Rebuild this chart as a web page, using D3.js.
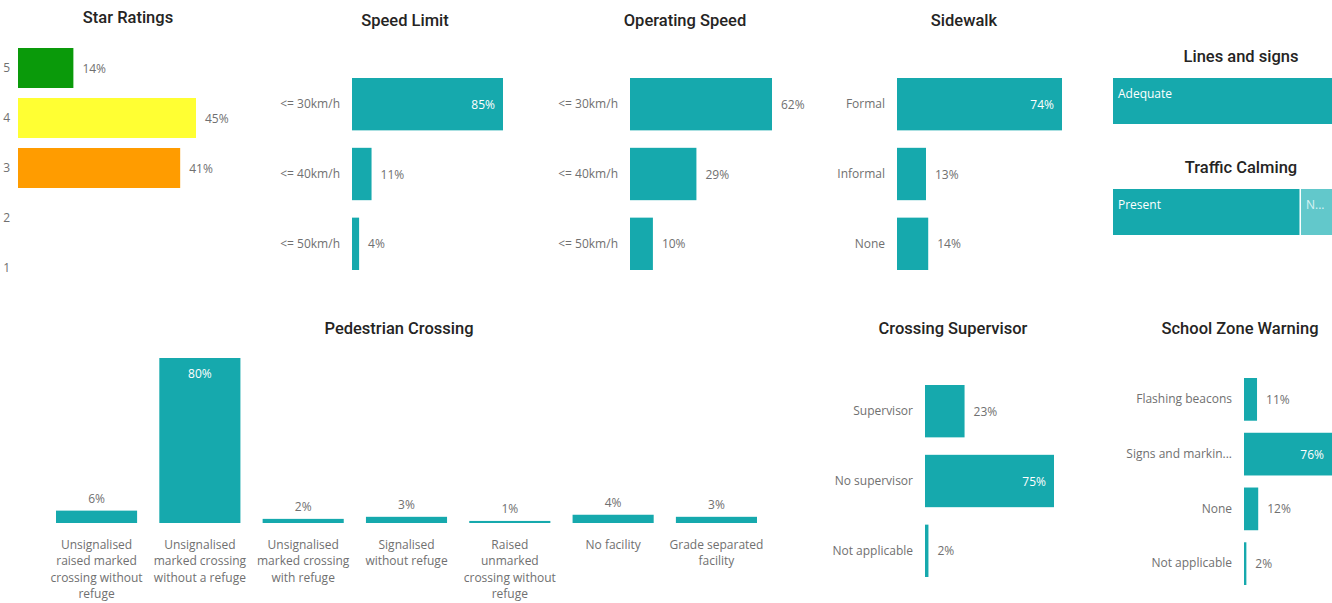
<!DOCTYPE html>
<html>
<head>
<meta charset="utf-8">
<script src="https://cdn.jsdelivr.net/npm/d3@7"></script>
<style>
  html, body { margin: 0; padding: 0; background: #ffffff; }
  svg { display: block; }
</style>
</head>
<body>
<svg id="chart" width="1332" height="603"></svg>
<script>
// ---------------- DATA ----------------
const starCats = ["5", "4", "3", "2", "1"];
const starVals = [14, 45, 41, 0, 0];
const starColors = ["#0a9a0a", "#ffff33", "#ff9c00", "#ff0000", "#8b0000"];

const speedLimitCats = ["<= 30km/h", "<= 40km/h", "<= 50km/h"];
const speedLimitVals = [85, 11, 4];

const opSpeedCats = ["<= 30km/h", "<= 40km/h", "<= 50km/h"];
const opSpeedVals = [62, 29, 10];

const sidewalkCats = ["Formal", "Informal", "None"];
const sidewalkVals = [74, 13, 14];

const linesCats = ["Adequate"];
const linesVals = [100];

const calmingCats = ["Present", "Not present"];
const calmingVals = [72, 28];

const pedCats = [
  "Unsignalised\nraised marked\ncrossing without\nrefuge",
  "Unsignalised\nmarked crossing\nwithout a refuge",
  "Unsignalised\nmarked crossing\nwith refuge",
  "Signalised\nwithout refuge",
  "Raised\nunmarked\ncrossing without\nrefuge",
  "No facility",
  "Grade separated\nfacility"
];
const pedVals = [6, 80, 2, 3, 1, 4, 3];

const supCats = ["Supervisor", "No supervisor", "Not applicable"];
const supVals = [23, 75, 2];

const schoolCats = ["Flashing beacons", "Signs and markings", "None", "Not applicable"];
const schoolVals = [11, 76, 12, 2];

// ---------------- STYLE ----------------
const TEAL = "#16a9ad";
const TEAL_LIGHT = "#62c8cb";
const LABEL = "#707070";
const TITLE = "#252423";
const FONT = "'Open Sans', 'Noto Sans', sans-serif";
const TFONT = "Roboto, 'DejaVu Sans', sans-serif";
const W = 1332;

const svg = d3.select("#chart");

function title(text, x, y) {
  svg.append("text").attr("x", x).attr("y", y)
    .attr("text-anchor", "middle").attr("dominant-baseline", "central")
    .attr("font-family", TFONT).attr("font-weight", 500).attr("font-size", 16.5)
    .attr("fill", TITLE).text(text);
}

function truncate(sel, maxW) {
  sel.each(function () {
    const t = d3.select(this);
    const full = t.text();
    if (this.getComputedTextLength() <= maxW) return;
    let s = full;
    while (s.length > 1) {
      s = s.slice(0, -1);
      t.text(s + "...");
      if (this.getComputedTextLength() <= maxW) break;
    }
  });
}

function hbar(cfg) {
  const g = svg.append("g");
  const x = d3.scaleLinear().domain([0, cfg.max]).range([cfg.left, cfg.right]);
  const y = d3.scaleBand().domain(cfg.cats).range([cfg.top, cfg.bottom]).paddingInner(cfg.pad);
  const data = cfg.cats.map((c, i) => ({ c, v: cfg.vals[i], i }));

  g.selectAll("rect").data(data.filter(d => d.v > 0)).join("rect")
    .attr("x", x(0)).attr("y", d => y(d.c))
    .attr("width", d => x(d.v) - x(0)).attr("height", y.bandwidth())
    .attr("fill", d => cfg.colors ? cfg.colors[d.i] : TEAL);

  const ax = g.append("g").attr("transform", `translate(${x(0) - (cfg.axGap || 4)},0)`)
    .call(d3.axisLeft(y).tickSize(0).tickPadding(cfg.tickPad || 8));
  ax.select(".domain").remove();
  ax.attr("font-family", FONT).attr("font-size", 12);
  ax.selectAll("text").attr("fill", LABEL);
  if (cfg.labelMax) truncate(ax.selectAll("text"), cfg.labelMax);

  g.selectAll("text.val").data(data.filter(d => d.v > 0)).join("text")
    .attr("class", "val")
    .attr("font-family", FONT).attr("font-size", 12)
    .attr("dominant-baseline", "central")
    .attr("y", d => y(d.c) + y.bandwidth() / 2)
    .text(d => d.v + "%")
    .each(function (d) {
      const t = d3.select(this);
      const w = this.getComputedTextLength();
      const end = x(d.v);
      if (end + 9 + w > cfg.bound) {
        t.attr("x", Math.min(end, W) - 8).attr("text-anchor", "end").attr("fill", "#ffffff");
      } else {
        t.attr("x", end + 9).attr("text-anchor", "start").attr("fill", LABEL);
      }
    });
}

function stacked(cfg) {
  const g = svg.append("g");
  const x = d3.scaleLinear().domain([0, 100]).range([cfg.left, cfg.right]);
  let acc = 0;
  const segs = cfg.cats.map((c, i) => { const s = { c, v: cfg.vals[i], x0: acc, i }; acc += cfg.vals[i]; return s; });
  g.selectAll("rect").data(segs).join("rect")
    .attr("x", d => x(d.x0) + (d.i > 0 ? 1.5 : 0)).attr("y", cfg.top)
    .attr("width", d => x(d.x0 + d.v) - x(d.x0) - (d.i > 0 ? 1.5 : 0))
    .attr("height", cfg.bottom - cfg.top)
    .attr("fill", d => d.i === 0 ? TEAL : TEAL_LIGHT);
  const lab = g.selectAll("text").data(segs).join("text")
    .attr("x", d => x(d.x0) + 5 + (d.i > 0 ? 1.5 : 0)).attr("y", cfg.top + 15)
    .attr("dominant-baseline", "central")
    .attr("font-family", FONT).attr("font-size", 12).attr("fill", d => d.i === 0 ? "#ffffff" : "#d8f3f4")
    .text(d => d.c);
  lab.each(function (d) {
    const avail = Math.min(x(d.x0 + d.v), W) - (x(d.x0) + 7) - 2;
    truncate(d3.select(this), avail);
  });
}

// ---------------- CHARTS ----------------
title("Star Ratings", 128, 17);
hbar({ cats: starCats, vals: starVals, colors: starColors, max: 45, left: 18, right: 196,
  top: 48, bottom: 288, pad: 0.2, bound: 245, axGap: 2, tickPad: 6 });

title("Speed Limit", 405, 20);
hbar({ cats: speedLimitCats, vals: speedLimitVals, max: 85, left: 352, right: 503,
  top: 78, bottom: 270, pad: 0.25, bound: 530 });

title("Operating Speed", 685, 20);
hbar({ cats: opSpeedCats, vals: opSpeedVals, max: 62, left: 630, right: 772,
  top: 78, bottom: 270, pad: 0.25, bound: 815 });

title("Sidewalk", 964, 20);
hbar({ cats: sidewalkCats, vals: sidewalkVals, max: 74, left: 897, right: 1062,
  top: 78, bottom: 270, pad: 0.25, bound: 1085 });

title("Lines and signs", 1241, 56);
stacked({ cats: linesCats, vals: linesVals, left: 1113, right: 1372, top: 78, bottom: 124 });

title("Traffic Calming", 1241, 167);
stacked({ cats: calmingCats, vals: calmingVals, left: 1113, right: 1372, top: 189, bottom: 235 });

title("Crossing Supervisor", 953, 328);
hbar({ cats: supCats, vals: supVals, max: 75, left: 925, right: 1054,
  top: 385, bottom: 577, pad: 0.25, bound: 1075 });

title("School Zone Warning", 1240, 328);
hbar({ cats: schoolCats, vals: schoolVals, max: 76, left: 1244, right: 1334,
  top: 378, bottom: 585, pad: 0.22, bound: 1340, labelMax: 108 });

// Pedestrian crossing column chart
title("Pedestrian Crossing", 399, 328);
(function () {
  const g = svg.append("g");
  const x = d3.scaleBand().domain(pedCats).range([56, 757]).paddingInner(0.215);
  const y = d3.scaleLinear().domain([0, 80]).range([523, 358]);
  const data = pedCats.map((c, i) => ({ c, v: pedVals[i] }));
  g.selectAll("rect").data(data).join("rect")
    .attr("x", d => x(d.c)).attr("width", x.bandwidth())
    .attr("y", d => y(d.v)).attr("height", d => y(0) - y(d.v))
    .attr("fill", TEAL);
  g.selectAll("text.val").data(data).join("text").attr("class", "val")
    .attr("font-family", FONT).attr("font-size", 12).attr("text-anchor", "middle")
    .attr("x", d => x(d.c) + x.bandwidth() / 2)
    .each(function (d) {
      const t = d3.select(this);
      const h = y(0) - y(d.v);
      if (h > 30) t.attr("y", y(d.v) + 20).attr("fill", "#ffffff");
      else t.attr("y", y(d.v) - 8).attr("fill", LABEL);
    })
    .text(d => d.v + "%");
  const ax = g.append("g").attr("transform", "translate(0,523)")
    .call(d3.axisBottom(x).tickSize(0).tickPadding(0));
  ax.select(".domain").remove();
  ax.attr("font-family", FONT).attr("font-size", 12);
  ax.selectAll(".tick text").each(function (d) {
    const t = d3.select(this);
    t.text(null).attr("fill", LABEL).attr("dy", null).attr("y", 0);
    d.split("\n").forEach((line, i) => {
      t.append("tspan").attr("x", 0).attr("y", 26 + i * 16.3).text(line);
    });
  });
})();
</script>
</body>
</html>
